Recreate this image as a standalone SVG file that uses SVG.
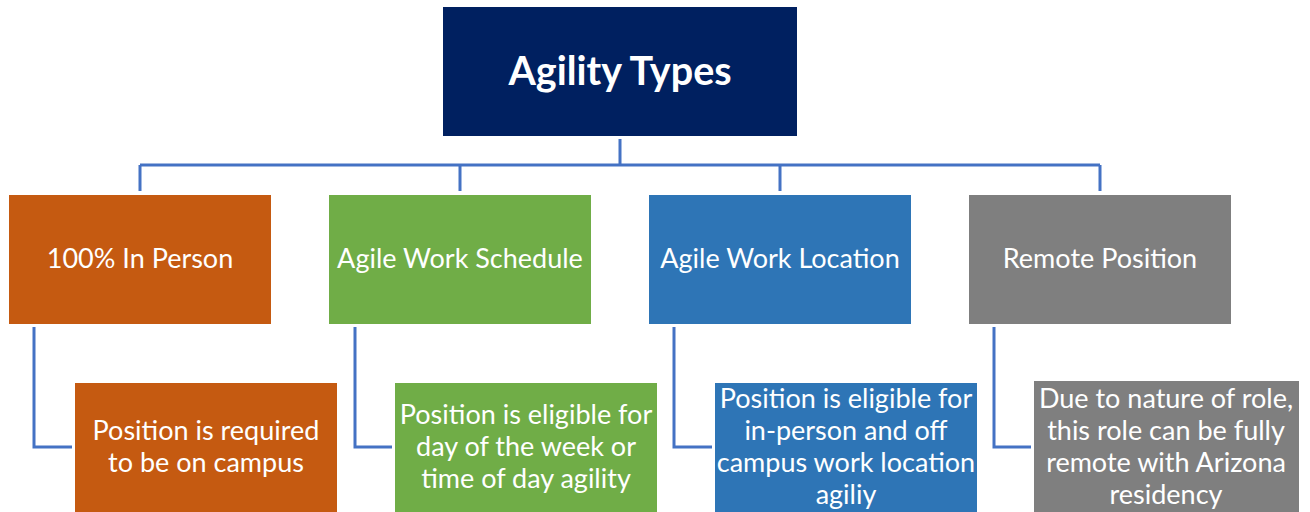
<svg xmlns="http://www.w3.org/2000/svg" width="1310" height="512" viewBox="0 0 1310 512">
<style>
.t{font-family:Lato,"Open Sans","Liberation Sans",sans-serif;fill:#fff;text-anchor:middle;font-size:27px}
.h{font-weight:bold;font-size:39.5px}
.c{fill:none;stroke:#4472C4;stroke-width:3}
.o{fill:#C55A11}.g{fill:#70AD47}.b{fill:#2E75B6}.y{fill:#7F7F7F}
</style>
<rect width="1310" height="512" fill="#fff"/>
<g id="connectors">
<path class="c" d="M620 139V165M140 165H1100M140 165V191M460 165V191M780 165V191M1100 165V191"/>
<path class="c" d="M34 327V447H72M355 327V447H392M674 327V447H712M994 327V447H1031"/>
</g>
<g id="root"><rect x="443" y="7" width="354" height="129" fill="#002060"/><text class="t h" x="620" y="85">Agility Types</text></g>
<g id="inperson"><rect class="o" x="9" y="195" width="262" height="129"/><text class="t" x="140" y="268">100% In Person</text></g>
<g id="schedule"><rect class="g" x="329" y="195" width="262" height="129"/><text class="t" x="460" y="268">Agile Work Schedule</text></g>
<g id="location"><rect class="b" x="649" y="195" width="262" height="129"/><text class="t" x="780" y="268">Agile Work Location</text></g>
<g id="remote"><rect class="y" x="969" y="195" width="262" height="129"/><text class="t" x="1100" y="268">Remote Position</text></g>
<g id="inperson-desc"><rect class="o" x="75" y="383" width="262" height="129"/><text class="t" x="206" y="440">Position is required</text><text class="t" x="206" y="472">to be on campus</text></g>
<g id="schedule-desc"><rect class="g" x="395" y="383" width="262" height="129"/><text class="t" x="526" y="424">Position is eligible for</text><text class="t" x="526" y="456">day of the week or</text><text class="t" x="526" y="488">time of day agility</text></g>
<g id="location-desc"><rect class="b" x="715" y="383" width="262" height="129"/><text class="t" x="846" y="408">Position is eligible for</text><text class="t" x="846" y="440">in-person and off</text><text class="t" x="846" y="472">campus work location</text><text class="t" x="846" y="504">agiliy</text></g>
<g id="remote-desc"><rect class="y" x="1034" y="381" width="265" height="131"/><text class="t" x="1166" y="408">Due to nature of role,</text><text class="t" x="1166" y="440">this role can be fully</text><text class="t" x="1166" y="472">remote with Arizona</text><text class="t" x="1166" y="504">residency</text></g>
</svg>
